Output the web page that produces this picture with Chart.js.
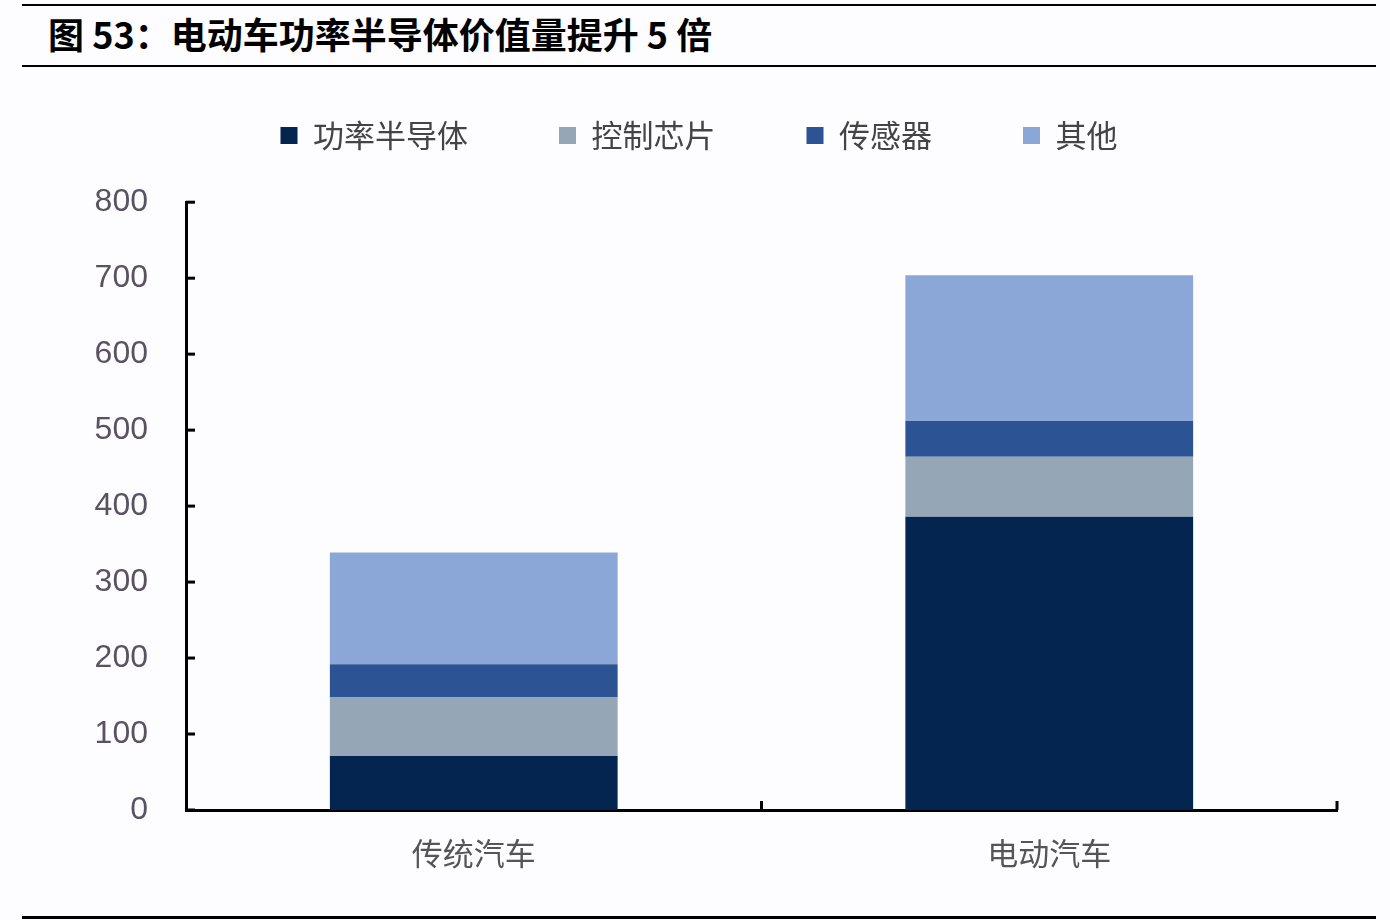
<!DOCTYPE html>
<html><head><meta charset="utf-8">
<script src="https://cdn.jsdelivr.net/npm/chart.js@4"></script>
<style>
html,body{margin:0;padding:0;background:#fdfcfe;}
#wrap{position:relative;width:1390px;height:920px;overflow:hidden;}
#title{position:absolute;left:48px;top:7px;font-family:"Noto Sans CJK SC",sans-serif;font-weight:bold;font-size:36px;color:#000;white-space:nowrap;}
.rule{position:absolute;left:22px;width:1354px;background:#000;}
#c{position:absolute;left:0;top:0;}
</style></head>
<body><div id="wrap">
<div class="rule" style="top:4px;height:2px"></div>
<div id="title">图 53：电动车功率半导体价值量提升 5 倍</div>
<div class="rule" style="top:65px;height:2px"></div>
<div class="rule" style="top:916px;height:3px"></div>
<canvas id="c" width="1390" height="920"></canvas>
</div>
<script>
const categories = ["传统汽车", "电动汽车"];
const powerSemi = [71, 386];
const controlChip = [77, 79];
const sensors = [44, 47];
const others = [147, 192];
const seriesNames = ["功率半导体", "控制芯片", "传感器", "其他"];
const yTicks = [0, 100, 200, 300, 400, 500, 600, 700, 800];

const colors = ["#03254f", "#95a6b6", "#2c5393", "#8ba7d8"];
const cjk = '"Noto Sans CJK SC", sans-serif';

const axisTicks = {
  id: 'axisTicks',
  afterDraw(chart) {
    const ctx = chart.ctx, x = chart.scales.x, y = chart.scales.y;
    ctx.save();
    ctx.strokeStyle = '#000';
    ctx.lineWidth = 3;
    ctx.lineCap = 'butt';
    yTicks.forEach(v => {
      const py = y.getPixelForValue(v);
      ctx.beginPath(); ctx.moveTo(x.left, py); ctx.lineTo(x.left + 9, py); ctx.stroke();
    });
    const n = categories.length;
    for (let i = 1; i <= n; i++) {
      const px = i < n ? (x.getPixelForValue(i - 1) + x.getPixelForValue(i)) / 2 : x.right;
      ctx.beginPath(); ctx.moveTo(px, y.bottom); ctx.lineTo(px, y.bottom - 9); ctx.stroke();
    }
    ctx.restore();
  }
};

new Chart(document.getElementById('c'), {
  type: 'bar',
  data: {
    labels: categories,
    datasets: [
      {label: seriesNames[0], data: powerSemi, backgroundColor: colors[0]},
      {label: seriesNames[1], data: controlChip, backgroundColor: colors[1]},
      {label: seriesNames[2], data: sensors, backgroundColor: colors[2]},
      {label: seriesNames[3], data: others, backgroundColor: colors[3]}
    ]
  },
  options: {
    responsive: false,
    animation: false,
    layout: {padding: {top: 29, left: 61, right: 53, bottom: 0}},
    datasets: {bar: {categoryPercentage: 1, barPercentage: 0.5}},
    plugins: {
      tooltip: {enabled: false},
      legend: {
        position: 'top',
        weight: 1000,
        labels: {
          boxWidth: 17, boxHeight: 17, padding: 91,
          color: '#444', font: {family: cjk, size: 31}
        }
      },
      subtitle: {
        display: true, text: ' ', position: 'top', weight: 500,
        font: {size: 1}, padding: {top: 40, bottom: 0}
      }
    },
    scales: {
      x: {
        stacked: true,
        grid: {display: false, drawTicks: false},
        border: {display: true, color: '#000', width: 3},
        ticks: {color: '#555', font: {family: cjk, size: 31}, padding: 25},
        afterFit(s) { s.height = 110; }
      },
      y: {
        stacked: true,
        min: 0, max: 800,
        afterBuildTicks(s) { s.ticks = yTicks.map(v => ({value: v})); },
        grid: {display: false, drawTicks: false},
        border: {display: true, color: '#000', width: 3},
        ticks: {color: '#585262', font: {family: 'Liberation Sans, Arial, sans-serif', size: 32}, padding: 38},
        afterFit(s) { s.width = 125; }
      }
    }
  },
  plugins: [axisTicks]
});
</script>
</body></html>
